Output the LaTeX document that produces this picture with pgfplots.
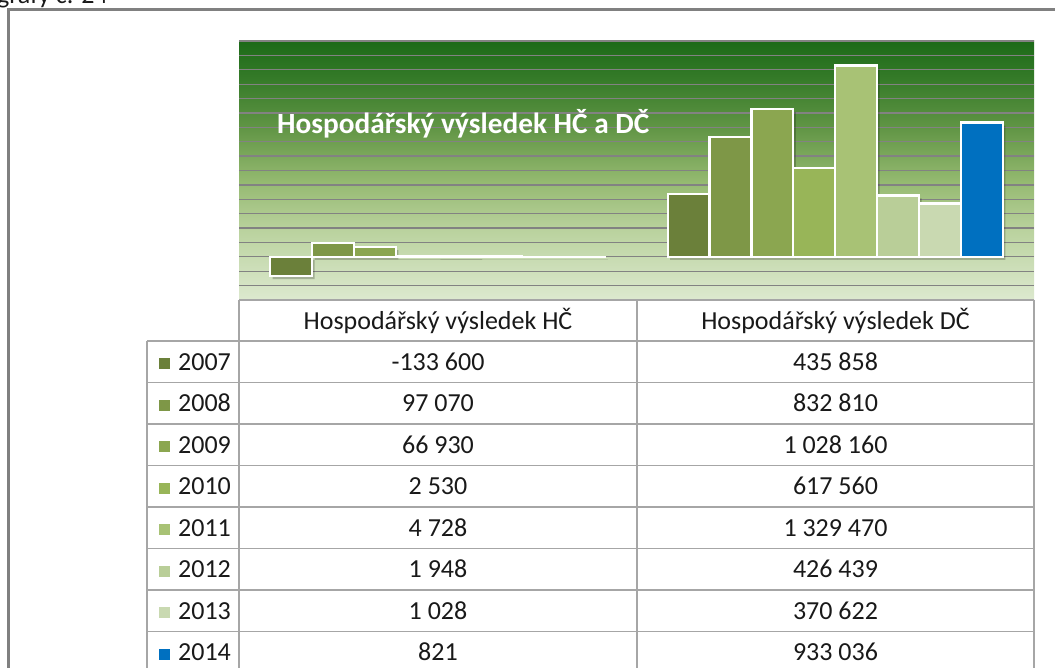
\documentclass[border=0pt]{standalone}
\usepackage{pgfplots}
\pgfplotsset{compat=1.18}
\usepackage{fontspec}
\setmainfont{Carlito}
\definecolor{cA}{RGB}{107,128,58}
\definecolor{cB}{RGB}{126,151,71}
\definecolor{cC}{RGB}{139,166,80}
\definecolor{cD}{RGB}{152,181,88}
\definecolor{cE}{RGB}{168,194,117}
\definecolor{cF}{RGB}{185,206,152}
\definecolor{cG}{RGB}{201,217,177}
\definecolor{cH}{RGB}{0,112,192}
\definecolor{tblgray}{RGB}{166,166,166}
\definecolor{framegray}{RGB}{128,128,128}
\definecolor{gridgray}{RGB}{130,130,130}
\definecolor{txt}{RGB}{25,25,25}
\pgfdeclareverticalshading{bggreen}{100bp}{%
  color(0bp)=(rgb,255:red,221;green,233;blue,207);
  color(25bp)=(rgb,255:red,221;green,233;blue,207);
  color(38.5bp)=(rgb,255:red,186;green,210;blue,158);
  color(48bp)=(rgb,255:red,148;green,185;blue,112);
  color(58bp)=(rgb,255:red,98;green,150;blue,70);
  color(67.5bp)=(rgb,255:red,54;green,123;blue,41);
  color(75bp)=(rgb,255:red,28;green,106;blue,24);
  color(100bp)=(rgb,255:red,28;green,106;blue,24)}
\begin{document}
\begin{tikzpicture}
\useasboundingbox (0,0) rectangle (1055bp,668bp);
\begin{axis}[
  at={(239bp,368bp)}, anchor=south west,
  width=795bp, height=259bp, scale only axis,
  xmin=-0.5, xmax=1.5, ymin=-300000, ymax=1500000,
  ybar=0pt, bar width=41.9bp,
  xtick=\empty, ytick distance=100000, yticklabels={}, scaled y ticks=false,
  major tick length=0pt, axis line style={draw=none},
  ymajorgrids, grid style={draw=gridgray, line width=1.3bp},
  axis background/.style={shade, shading=bggreen},
  every axis plot/.append style={draw=white, line width=2.2bp,
    preaction={fill=black, fill opacity=0.22, draw=none,
      transform canvas={xshift=2.5bp, yshift=-3bp}}},
]
\addplot[fill=cA] coordinates {(0,-133600) (1,435858)};
\addplot[fill=cB] coordinates {(0,97070) (1,832810)};
\addplot[fill=cC] coordinates {(0,66930) (1,1028160)};
\addplot[fill=cD] coordinates {(0,2530) (1,617560)};
\addplot[fill=cE] coordinates {(0,4728) (1,1329470)};
\addplot[fill=cF] coordinates {(0,1948) (1,426439)};
\addplot[fill=cG] coordinates {(0,1028) (1,370622)};
\addplot[fill=cH] coordinates {(0,821) (1,933036)};
\end{axis}
\begin{scope}[x=1bp, y=-1bp, shift={(0bp,668bp)}]
  \node[anchor=west, text=white, font=\fontsize{29.3bp}{35bp}\selectfont\bfseries, inner sep=0pt] at (277,124) {Hospodářský výsledek HČ a DČ};
  \node[anchor=base west, text=txt, font=\fontsize{26bp}{31bp}\selectfont, inner sep=0pt] at (-3,4) {grafy č. 24};
  \draw[framegray, line width=2.4bp] (8.5,690) -- (8.5,9.5) -- (1070,9.5);
  \begin{scope}[tblgray, line width=1.8bp]
    \draw (239,300) -- (1034,300);
    \foreach \yy in {341,382.5,424,465.5,507,548.5,590,631.5} \draw (147,\yy) -- (1034,\yy);
    \draw (147,341) -- (147,690);
    \draw (239,300) -- (239,690);
    \draw (637,300) -- (637,690);
    \draw (1034,300) -- (1034,690);
  \end{scope}
  \begin{scope}[every node/.style={text=txt, font=\fontsize{26bp}{31bp}\selectfont, inner sep=0pt}]
    \node[anchor=base] at (438,329.5) {Hospodářský výsledek HČ};
    \node[anchor=base] at (835.5,329.5) {Hospodářský výsledek DČ};
    \foreach \r/\yr/\hc/\dc/\cc in {0/2007/{-133 600}/{435 858}/cA, 1/2008/{97 070}/{832 810}/cB, 2/2009/{66 930}/{1 028 160}/cC, 3/2010/{2 530}/{617 560}/cD, 4/2011/{4 728}/{1 329 470}/cE, 5/2012/{1 948}/{426 439}/cF, 6/2013/{1 028}/{370 622}/cG, 7/2014/{821}/{933 036}/cH} {
      \pgfmathsetmacro{\top}{341+41.5*\r}
      \fill[\cc] (158.5,\top+17.5) rectangle (169.5,\top+28.5);
      \node[anchor=base west] at (178,\top+29.5) {\yr};
      \node[anchor=base] at (438,\top+29.5) {\hc};
      \node[anchor=base] at (835.5,\top+29.5) {\dc};
    }
  \end{scope}
\end{scope}
\end{tikzpicture}
\end{document}
